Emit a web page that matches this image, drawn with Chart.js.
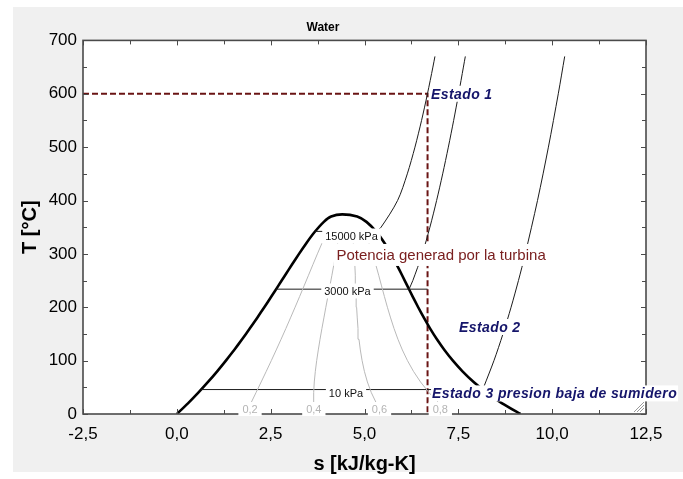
<!DOCTYPE html>
<html>
<head>
<meta charset="utf-8">
<script src="https://cdn.jsdelivr.net/npm/chart.js@4"></script>
<style>
  html, body { margin: 0; padding: 0; background: #fff; }
  canvas { display: block; }
</style>
</head>
<body>
<canvas id="ts" width="683" height="479"></canvas>
<script>
// saturation dome (T in C, s in kJ/kg-K)
const satT  = [0.01, 20, 40, 60, 80, 100, 120, 140, 160, 180, 200, 220, 240, 260, 280, 300, 320, 340, 360, 370, 373.95]
const satSf = [0, 0.2966, 0.5724, 0.8312, 1.0753, 1.3072, 1.5279, 1.7392, 1.9426, 2.1392, 2.3305, 2.5177, 2.7020, 2.8849, 3.0685, 3.2552, 3.4494, 3.6601, 3.9167, 4.1119, 4.4070]
const satSg = [9.1556, 8.6660, 8.2555, 7.9082, 7.6111, 7.3549, 7.1296, 6.9293, 6.7491, 6.5850, 6.4302, 6.2840, 6.1423, 6.0016, 5.8571, 5.7059, 5.5362, 5.3357, 5.0526, 4.8055, 4.4070]

// quality lines
const qualT = [0.01, 20, 40, 60, 80, 100, 120, 140, 160, 180, 200, 220, 240, 260, 280, 300, 320]
const q02 = [1.831, 1.971, 2.109, 2.247, 2.383, 2.517, 2.648, 2.777, 2.904, 3.028, 3.150, 3.271, 3.390, 3.508, 3.626, 3.745, 3.867]
const q04 = [3.662, 3.644, 3.646, 3.662, 3.690, 3.726, 3.769, 3.815, 3.865, 3.918, 3.970, 4.024, 4.078, 4.132, 4.184, 4.236, 4.284]
const q06 = [5.493, 5.318, 5.182, 5.077, 4.997, 4.936, 4.889, 4.853, 4.827, 4.807, 4.790, 4.778, 4.766, 4.755, 4.742, 4.726, 4.702]
const q08 = [7.324, 6.992, 6.719, 6.493, 6.304, 6.145, 6.009, 5.891, 5.788, 5.696, 5.610, 5.531, 5.454, 5.378, 5.299, 5.216, 5.119]

// isobars: flat part inside the dome + superheated branch
const p15flatS = [3.6848, 5.3098]
const p15flatT = [342.16, 342.16]
const p15T = [342.16, 350, 400, 450, 500, 550, 600, 650, 670]
const p15S = [5.3098, 5.4421, 5.8811, 6.1404, 6.3443, 6.5199, 6.6776, 6.8224, 6.877]

const p3flatS = [2.6457, 6.68]
const p3flatT = [233.9, 233.9]
const p3T = [233.9, 250, 300, 350, 400, 450, 500, 550, 600, 650, 670]
const p3S = [6.1869, 6.2872, 6.5390, 6.7428, 6.9212, 7.0834, 7.2338, 7.3752, 7.5085, 7.6352, 7.686]

const p10flatS = [0.6493, 8.1502]
const p10flatT = [45.81, 45.81]
const p10T = [45.81, 50, 100, 150, 200, 250, 300, 400, 500, 600, 670]
const p10S = [8.1502, 8.1741, 8.4489, 8.6892, 8.9049, 9.1015, 9.2827, 9.6094, 9.8998, 10.1631, 10.334]

// turbine expansion guide (dashed)
const turbS = [-2.5, 6.68, 6.68]
const turbT = [600, 600, 0]

const xTicks = [-2.5, 0, 2.5, 5, 7.5, 10, 12.5]
const yTicks = [0, 100, 200, 300, 400, 500, 600, 700]

const pts = (xs, ys) => xs.map((x, i) => ({ x: x, y: ys[i] }))

const dome = pts(satSf, satT).concat(pts(satSg, satT).reverse().slice(1))

const FONT = "'Liberation Sans', Arial, sans-serif"

const notes = [
  { text: '0,2', s: 1.95, T: 9.4, kind: 'q' },
  { text: '0,4', s: 3.65, T: 9.4, kind: 'q' },
  { text: '0,6', s: 5.40, T: 9.4, kind: 'q' },
  { text: '0,8', s: 7.02, T: 9.4, kind: 'q' },
  { text: '15000 kPa', s: 4.654, T: 333.5, kind: 'p' },
  { text: '3000 kPa', s: 4.547, T: 230.5, kind: 'p' },
  { text: '10 kPa', s: 4.507, T: 40.3, kind: 'p' },
  { text: 'Potencia generad por la turbina', s: 7.04, T: 298, kind: 'w' },
  { text: 'Estado 1', s: 6.772, T: 600, kind: 'e' },
  { text: 'Estado 2', s: 7.518, T: 163, kind: 'e' },
  { text: 'Estado 3 presion baja de sumidero', s: 6.80, T: 38.6, kind: 'e' },
]

const styles = {
  q: { font: '11px ' + FONT, color: '#b4b4b4', align: 'center', padX: 4, h: 14 },
  p: { font: '11px ' + FONT, color: '#111', align: 'center', padX: 3, h: 15 },
  w: { font: '15px ' + FONT, color: '#7a2020', align: 'center', padX: 3, h: 22 },
  e: { font: 'italic bold 14px ' + FONT, color: '#15156a', align: 'left', padX: 1, h: 16, spacing: '0.4px' },
}

const panel = {
  id: 'panel',
  beforeDraw(chart) {
    const { ctx, chartArea: a } = chart
    ctx.save()
    ctx.fillStyle = '#f0f0f0'
    ctx.fillRect(13, 7, 670, 465)
    ctx.fillStyle = '#fff'
    ctx.fillRect(a.left, a.top, a.right - a.left, a.bottom - a.top)
    ctx.restore()
  },
  afterDatasetsDraw(chart) {
    const { ctx, chartArea: a, scales } = chart
    ctx.save()
    ctx.strokeStyle = '#4a4a4a'
    ctx.lineWidth = 1
    ctx.beginPath()
    for (let v = -2.5; v <= 12.5; v += 1.25) {
      const px = Math.round(scales.x.getPixelForValue(v)) + 0.5
      const len = v % 2.5 === 0 ? 5 : 4
      ctx.moveTo(px, a.bottom); ctx.lineTo(px, a.bottom - len)
      ctx.moveTo(px, a.top); ctx.lineTo(px, a.top + len)
    }
    for (let v = 0; v <= 700; v += 50) {
      const py = Math.round(scales.y.getPixelForValue(v)) + 0.5
      const len = v % 100 === 0 ? 5 : 4
      ctx.moveTo(a.left, py); ctx.lineTo(a.left + len, py)
      ctx.moveTo(a.right, py); ctx.lineTo(a.right - len, py)
    }
    ctx.stroke()
    ctx.lineWidth = 1.6
    ctx.strokeRect(a.left, a.top, a.right - a.left, a.bottom - a.top)
    ctx.restore()
  },
  afterDraw(chart) {
    const { ctx, chartArea: a, scales } = chart
    ctx.save()
    ctx.textBaseline = 'middle'
    notes.forEach(n => {
      const st = styles[n.kind]
      ctx.font = st.font
      ctx.letterSpacing = st.spacing || '0px'
      const w = ctx.measureText(n.text).width
      const px = scales.x.getPixelForValue(n.s)
      const py = scales.y.getPixelForValue(n.T)
      const left = st.align === 'center' ? px - w / 2 : px
      ctx.fillStyle = '#fff'
      ctx.fillRect(left - st.padX, py - st.h / 2, w + 2 * st.padX, st.h)
      ctx.fillStyle = st.color
      ctx.textAlign = 'left'
      ctx.fillText(n.text, left, py + 1)
    })
    // resize grip in the plot corner
    ctx.letterSpacing = '0px'
    ctx.strokeStyle = '#9a9a9a'
    ctx.lineWidth = 1
    ctx.beginPath()
    for (let k = 0; k < 3; k++) {
      const d = 4 + k * 3
      ctx.moveTo(a.right - 2, a.bottom - 2 - d)
      ctx.lineTo(a.right - 2 - d, a.bottom - 2)
    }
    ctx.stroke()
    ctx.restore()
  }
}

const line = (data, color, width, extra) => Object.assign({
  data: data, showLine: true, borderColor: color, borderWidth: width,
  pointRadius: 0, fill: false, tension: 0
}, extra || {})

const qualColor = '#b9b9b9'
const isoColor = '#1c1c1c'

new Chart(document.getElementById('ts'), {
  type: 'scatter',
  data: {
    datasets: [
      line(pts(q02, qualT), qualColor, 1),
      line(pts(q04, qualT), qualColor, 1),
      line(pts(q06, qualT), qualColor, 1),
      line(pts(q08, qualT), qualColor, 1),
      line(pts(p15flatS, p15flatT), isoColor, 1),
      line(pts(p15S, p15T), isoColor, 1, { tension: 0.3 }),
      line(pts(p3flatS, p3flatT), isoColor, 1),
      line(pts(p3S, p3T), isoColor, 1, { tension: 0.3 }),
      line(pts(p10flatS, p10flatT), isoColor, 1),
      line(pts(p10S, p10T), isoColor, 1, { tension: 0.3 }),
      line(dome, '#000', 2.6, { tension: 0.2 }),
      line(pts(turbS, turbT), '#6a1414', 2, { borderDash: [6, 3] }),
    ]
  },
  options: {
    responsive: false,
    animation: false,
    devicePixelRatio: 1,
    layout: { padding: { left: 0, right: 37, top: 0, bottom: 0 } },
    plugins: {
      legend: { display: false },
      tooltip: { enabled: false },
      title: {
        display: true, text: 'Water', color: '#000',
        font: { family: FONT, size: 12, weight: 'bold' },
        padding: { top: 20, bottom: 6 }
      }
    },
    scales: {
      x: {
        type: 'linear', min: -2.5, max: 12.5,
        afterFit: s => { s.height = 65 },
        afterBuildTicks: s => { s.ticks = xTicks.map(v => ({ value: v })) },
        grid: { display: false, drawTicks: false },
        border: { display: false },
        ticks: {
          color: '#000', padding: 10, maxRotation: 0,
          font: { family: FONT, size: 17 },
          callback: v => v.toFixed(1).replace('.', ',')
        },
        title: {
          display: true, text: 's [kJ/kg-K]', color: '#000',
          font: { family: FONT, size: 20, weight: 'bold' },
          padding: { top: 0, bottom: 3 }
        }
      },
      y: {
        type: 'linear', min: 0, max: 700,
        afterFit: s => { s.width = 83 },
        afterBuildTicks: s => { s.ticks = yTicks.map(v => ({ value: v })) },
        grid: { display: false, drawTicks: false },
        border: { display: false },
        ticks: {
          color: '#000', padding: 6,
          font: { family: FONT, size: 17 }
        },
        title: {
          display: true, text: 'T [°C]', color: '#000',
          font: { family: FONT, size: 20, weight: 'bold' },
          padding: { top: 18, bottom: 0 }
        }
      }
    }
  },
  plugins: [panel]
})
</script>
</body>
</html>
